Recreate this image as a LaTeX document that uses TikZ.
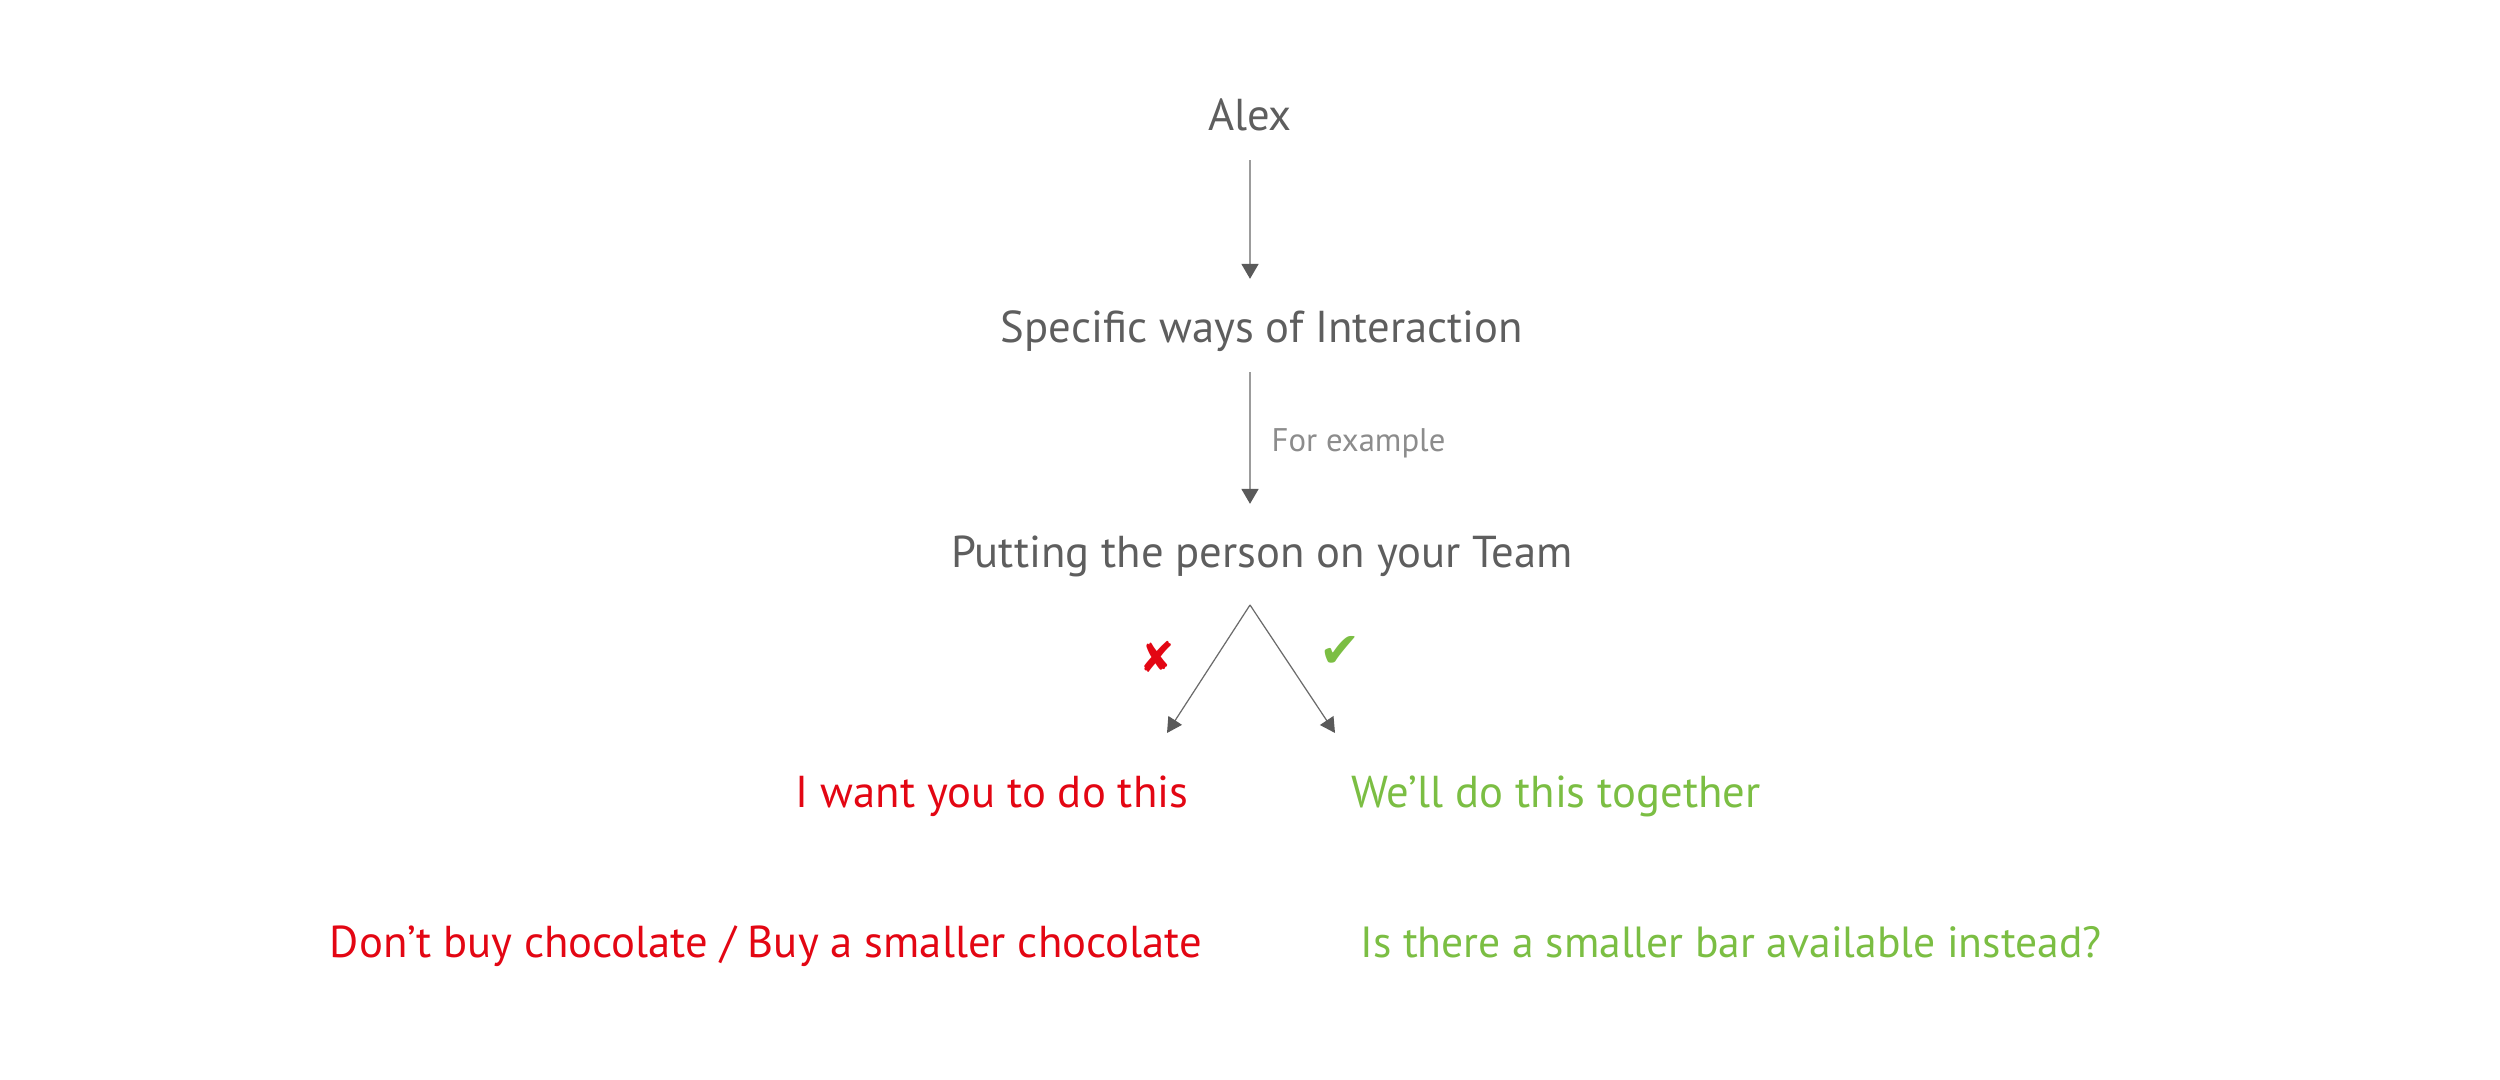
\documentclass[tikz,border=0pt]{standalone}
\usepackage{fontspec}
\setmainfont{PT Sans}
\newfontfamily\markfont{DejaVu Sans}
\usetikzlibrary{arrows.meta}
\definecolor{textgray}{HTML}{5E5E5E}
\definecolor{notegray}{HTML}{8C8C8C}
\definecolor{linegray}{HTML}{9C9C9C}
\definecolor{headgray}{HTML}{5A5A5A}
\definecolor{nored}{HTML}{E30613}
\definecolor{yesgreen}{HTML}{7BBE43}
\tikzset{
  txt/.style={inner sep=0pt, anchor=base, text height=9.5pt, text depth=2.5pt, font=\fontsize{12.7}{15}\selectfont, text=textgray},
  note/.style={inner sep=0pt, anchor=base west, font=\fontsize{9.3}{11}\selectfont, text=notegray},
  flow/.style={draw=linegray, line width=0.5pt, -{Triangle[length=0.15cm, width=0.17cm, color=headgray]}},
  fork/.style={draw=headgray!90, line width=0.35pt, -{Triangle[length=0.15cm, width=0.16cm, color=headgray]}}
}
\begin{document}
\begin{tikzpicture}[x=0.01cm, y=-0.01cm]
\useasboundingbox (0,0) rectangle (2500,1080);
\node[txt] (alex) at (1250,131) {Alex};
\node[txt] (ways) at (1262,343) {Specific ways of Interaction};
\node[txt] (team) at (1262,568) {Putting the person on your Team};
\node[txt, text=nored] (want) at (992,808) {I want you to do this};
\node[txt, text=yesgreen] (together) at (1556,808) {We’ll do this together};
\node[txt, text=nored] (dont) at (766,958) {Don’t buy chocolate / Buy a smaller chocolate};
\node[txt, text=yesgreen, font=\fontsize{12.4}{15}\selectfont] (bar) at (1731,958) {Is there a smaller bar available instead?};
\node[note] (forex) at (1271,452) {For example};
\node[text=nored, font=\markfont\fontsize{12}{14}\selectfont, inner sep=0pt] (cross) at (1157,657) {✘};
\node[text=yesgreen, font=\markfont\fontsize{14}{16}\selectfont, inner sep=0pt] (tick) at (1340,652) {✔};
\coordinate (split) at (1250,605);
\coordinate (noend) at (1167,733);
\coordinate (yesend) at (1335,733);
\path[flow, shorten <=0.2cm, shorten >=0.3cm] (alex.south) -- (alex.south |- ways.north);
\path[flow, shorten <=0.2cm, shorten >=0.3cm] (alex |- ways.south) -- (alex |- team.north);
\path[fork] (split) -- (noend);
\path[fork] (split) -- (yesend);
\end{tikzpicture}
\end{document}
